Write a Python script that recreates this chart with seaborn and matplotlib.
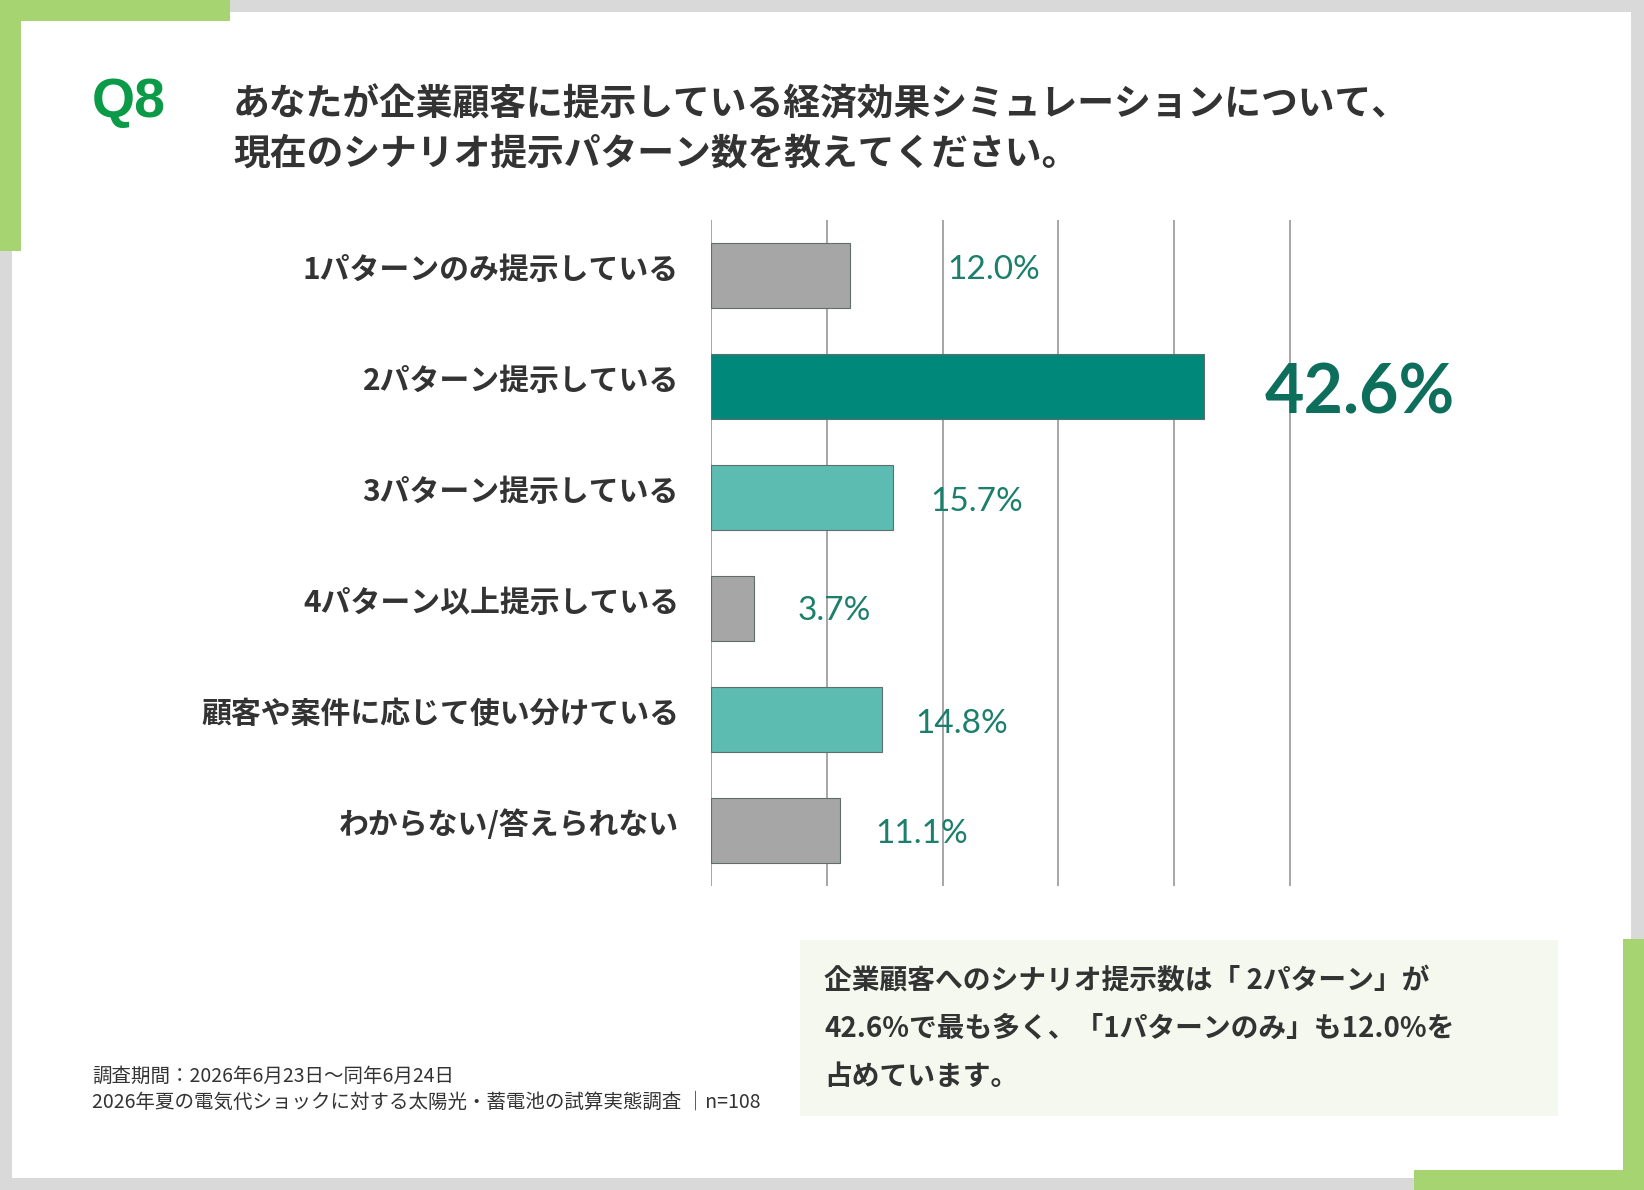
import matplotlib
matplotlib.use("Agg")
import matplotlib.pyplot as plt
from matplotlib.patches import Rectangle
import seaborn as sns
import pandas as pd

# ---- data ----
categories = [
    "1パターンのみ提示している",
    "2パターン提示している",
    "3パターン提示している",
    "4パターン以上提示している",
    "顧客や案件に応じて使い分けている",
    "わからない/答えられない",
]
values = [12.0, 42.6, 15.7, 3.7, 14.8, 11.1]
x_ticks = [0, 10, 20, 30, 40, 50]

title_lines = [
    "あなたが企業顧客に提示している経済効果シミュレーションについて、",
    "現在のシナリオ提示パターン数を教えてください。",
]
question_no = "Q8"
footnote_lines = [
    "調査期間：2026年6月23日～同年6月24日",
    "2026年夏の電気代ショックに対する太陽光・蓄電池の試算実態調査 │n=108",
]
summary_lines = [
    "企業顧客へのシナリオ提示数は「 2パターン」が",
    "42.6%で最も多く、「1パターンのみ」も12.0%を",
    "占めています。",
]

# ---- styles ----
bar_colors = ["#A6A6A6", "#00897A", "#5CBCB2", "#A6A6A6", "#5CBCB2", "#A6A6A6"]
label_dx = [8.4, 5.2, 3.2, 3.8, 2.8, 3.1]
label_dy = [-0.05, 0.07, 0.04, 0.02, 0.04, 0.03]
label_sizes = [24, 49, 24, 24, 24, 24]
label_weights = ["normal", "bold", "normal", "normal", "normal", "normal"]

sns.set_theme(style="white")
plt.rcParams["font.family"] = ["Noto Sans CJK JP", "DejaVu Sans"]

W, H = 1644, 1190
fig = plt.figure(figsize=(W / 100, H / 100), dpi=100)
fig.patch.set_facecolor("#D9D9D9")


def fx(x):
    return x / W


def fy(y):
    return 1 - y / H


def rect(x0, y0, x1, y1, color):
    fig.add_artist(Rectangle((fx(x0), fy(y1)), fx(x1) - fx(x0), fy(y0) - fy(y1),
                             transform=fig.transFigure, facecolor=color,
                             edgecolor="none", zorder=0))


# frame
rect(12, 12, 1631, 1178, "white")
green = "#A5D470"
rect(0, 0, 230, 21, green)
rect(0, 0, 21, 251, green)
rect(1623, 939, 1644, 1190, green)
rect(1414, 1170, 1644, 1190, green)
# summary box
rect(800, 940, 1558, 1116, "#F4F8EE")

# ---- chart ----
ax_left, ax_right, ax_top, ax_bottom = 711, 1348, 220, 886
ax = fig.add_axes([fx(ax_left), fy(ax_bottom), fx(ax_right) - fx(ax_left),
                   fy(ax_top) - fy(ax_bottom)])
ax.set_facecolor("none")

df = pd.DataFrame({"cat": categories, "val": values})
sns.barplot(data=df, x="val", y="cat", hue="cat", palette=bar_colors,
            orient="h", width=0.59, legend=False, ax=ax,
            edgecolor="#5E6E6A", linewidth=0.8, saturation=1)

ax.set_xlim(0, 55)
ax.set_ylim(5.5, -0.5)
ax.set_xticks(x_ticks)
ax.set_xticklabels([])
ax.grid(axis="x", color="#A6A6A6", linewidth=1.4)
ax.grid(axis="y", visible=False)
ax.set_axisbelow(True)
for s in ax.spines.values():
    s.set_visible(False)
ax.set_xlabel("")
ax.set_ylabel("")
ax.tick_params(axis="both", length=0)
ax.set_yticks(range(len(categories)))
ax.set_yticklabels([])

cjk = ["Noto Sans CJK JP", "DejaVu Sans"]
for i, c in enumerate(categories):
    ax.annotate(c, xy=(0, i), xycoords=("axes fraction", "data"),
                xytext=(-32, 6), textcoords="offset pixels",
                ha="right", va="center", fontsize=21.5, fontweight="bold",
                color="#333333", family=cjk)

for i, v in enumerate(values):
    ax.text(v + label_dx[i], i + label_dy[i], f"{v:.1f}%", va="center", ha="left",
            fontsize=label_sizes[i], fontweight=label_weights[i],
            color="#1B7F6C" if i != 1 else "#0E6E5C",
            family=["Lato", "DejaVu Sans"], clip_on=False)

# ---- texts ----
fig.text(fx(92), fy(103), question_no, fontsize=40, fontweight="bold",
         color="#0B9A47", family=["Liberation Sans", "DejaVu Sans"],
         ha="left", va="center")
fig.text(fx(233), fy(105), title_lines[0], fontsize=26.5, fontweight="bold",
         color="#333333", family=cjk, ha="left", va="center")
fig.text(fx(233), fy(154), title_lines[1], fontsize=26.5, fontweight="bold",
         color="#333333", family=cjk, ha="left", va="center")

fig.text(fx(92), fy(1076), footnote_lines[0], fontsize=14, color="#333333",
         family=cjk, ha="left", va="center")
fig.text(fx(92), fy(1102), footnote_lines[1], fontsize=14, color="#333333",
         family=cjk, ha="left", va="center")

for k, line in enumerate(summary_lines):
    fig.text(fx(824), fy(981 + 48 * k), line, fontsize=20, fontweight="bold",
             color="#333333", family=cjk, ha="left", va="center")

fig.savefig("out.png", dpi=100, facecolor=fig.get_facecolor())
